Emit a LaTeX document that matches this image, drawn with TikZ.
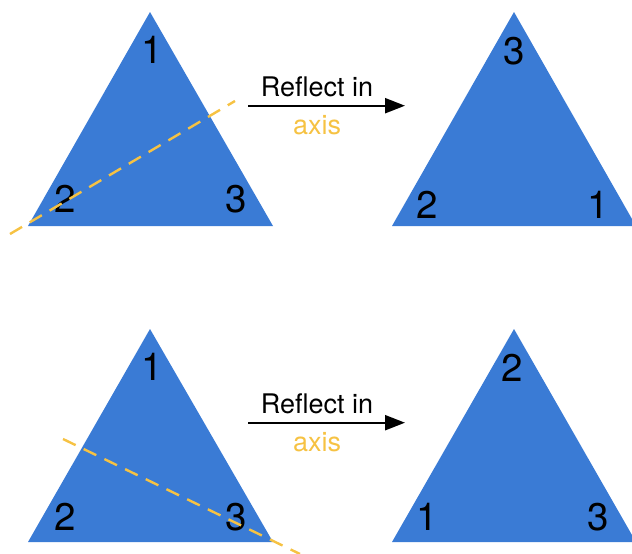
\documentclass[tikz,border=0pt]{standalone}
\usepackage{fontspec}
\setmainfont{TeX Gyre Heros}
\usetikzlibrary{arrows.meta}
\definecolor{triblue}{RGB}{58,123,213}
\definecolor{axisyel}{RGB}{246,194,67}
\tikzset{
  tri/.style={fill=triblue, draw=none},
  vlab/.style={font=\fontsize{38.5}{38.5}\selectfont, inner sep=0pt},
  refl/.style={axisyel, line width=2.4pt, dash pattern=on 14pt off 9pt},
  act/.style={black, line width=2.2pt, -{Triangle[length=20pt,width=15pt]}},
  actlab/.style={font=\fontsize{27}{27}\selectfont, inner sep=0pt},
}

\begin{document}
\begin{tikzpicture}[x=1pt, y=-1pt]
  \useasboundingbox (0,0) rectangle (632,554);
  % top row: triangle before the reflection
  \coordinate (ta) at (150,12);
  \coordinate (tb) at (28,226);
  \coordinate (tc) at (273,226);
  \fill[tri] (ta)--(tb)--(tc)--cycle;
  \node[vlab] (ta1) at (152,50) {1};
  \node[vlab] (tb2) at (65,199) {2};
  \node[vlab] (tc3) at (236,199) {3};
  % axis through vertex 2
  \coordinate (tp) at (10,234);
  \coordinate (tq) at (235,101);
  \draw[refl] (tp)--(tq);
  % action
  \coordinate (tl) at (248,105.7);
  \coordinate (tr) at (405,105.7);
  \draw[act] (tl)--(tr)
    node[actlab, pos=0.44, above=7.5pt] (tlab) {Reflect in}
    node[actlab, pos=0.44, below=9pt, text=axisyel] (taxis) {axis};
  % top row: after the reflection
  \coordinate (ua) at (514,12);
  \coordinate (ub) at (392,226);
  \coordinate (uc) at (636,226);
  \fill[tri] (ua)--(ub)--(uc)--cycle;
  \node[vlab] (ua3) at (514,51) {3};
  \node[vlab] (ub2) at (427,205) {2};
  \node[vlab] (uc1) at (598,205) {1};

  \begin{scope}[shift={(0,317)}]
  % bottom row: triangle before the reflection
  \coordinate (ba) at (150,12);
  \coordinate (bb) at (28,225);
  \coordinate (bc) at (273,225);
  \fill[tri] (ba)--(bb)--(bc)--cycle;
  \node[vlab] (ba1) at (152,50) {1};
  \node[vlab] (bb2) at (65,200) {2};
  \node[vlab] (bc3) at (236,200) {3};
  % axis through vertex 3
  \coordinate (bp) at (63,122);
  \coordinate (bq) at (300,237);
  \draw[refl] (bp)--(bq);
  % action
  \coordinate (bl) at (248,105.7);
  \coordinate (br) at (405,105.7);
  \draw[act] (bl)--(br)
    node[actlab, pos=0.44, above=7.5pt] (blab) {Reflect in}
    node[actlab, pos=0.44, below=9pt, text=axisyel] (baxis) {axis};
  % bottom row: after the reflection
  \coordinate (va) at (514,12);
  \coordinate (vb) at (392,225);
  \coordinate (vc) at (636,225);
  \fill[tri] (va)--(vb)--(vc)--cycle;
  \node[vlab] (va2) at (512,51) {2};
  \node[vlab] (vb1) at (427,200) {1};
  \node[vlab] (vc3) at (598,200) {3};
  \end{scope}
\end{tikzpicture}
\end{document}
